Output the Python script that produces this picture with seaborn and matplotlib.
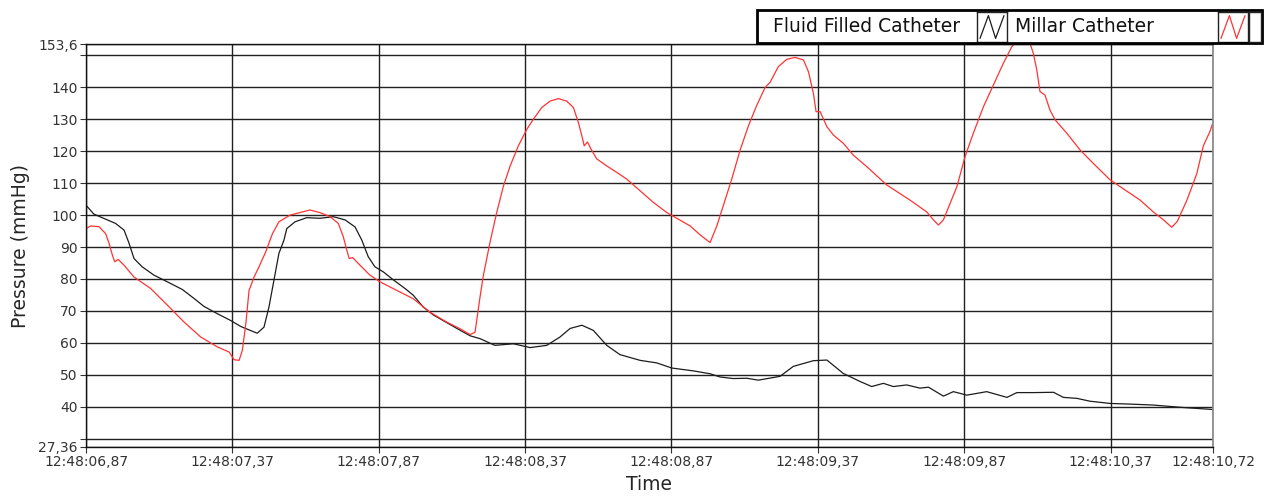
import numpy as np
import pandas as pd
import seaborn as sns
import matplotlib.pyplot as plt
from matplotlib.patches import Rectangle
from matplotlib.ticker import FixedLocator

# seconds within 12:48
fluid_t = [6.870, 6.897, 6.971, 7.000, 7.017, 7.034, 7.062, 7.102, 7.148, 7.199,
           7.239, 7.273, 7.319, 7.364, 7.399, 7.455, 7.478, 7.495, 7.512, 7.529,
           7.546, 7.556, 7.584, 7.624, 7.669, 7.715, 7.755, 7.789, 7.812, 7.834,
           7.857, 7.886, 7.920, 7.960, 7.988, 8.022, 8.057, 8.097, 8.137, 8.182,
           8.216, 8.267, 8.330, 8.387, 8.444, 8.489, 8.524, 8.564, 8.603, 8.649,
           8.694, 8.763, 8.820, 8.871, 8.945, 9.002, 9.036, 9.081, 9.127, 9.167,
           9.241, 9.286, 9.355, 9.401, 9.457, 9.514, 9.554, 9.594, 9.628, 9.674,
           9.719, 9.748, 9.799, 9.833, 9.879, 9.947, 10.016, 10.050, 10.106, 10.175,
           10.209, 10.255, 10.300, 10.369, 10.437, 10.516, 10.608, 10.720]
fluid_p = [103.1, 100.3, 97.4, 95.3, 91.2, 86.4, 83.8, 81.2, 79.1, 76.7,
           73.9, 71.4, 69.1, 67.0, 65.1, 63.0, 64.9, 71.2, 79.6, 88.0,
           92.1, 95.8, 97.9, 99.2, 99.0, 99.5, 98.5, 96.3, 92.2, 87.0,
           83.8, 82.2, 79.7, 77.0, 74.9, 71.2, 68.7, 66.6, 64.5, 62.2,
           61.3, 59.2, 59.7, 58.5, 59.2, 61.8, 64.5, 65.5, 63.9, 59.2,
           56.3, 54.5, 53.7, 52.1, 51.2, 50.3, 49.3, 48.8, 48.9, 48.3,
           49.5, 52.6, 54.4, 54.6, 50.4, 47.9, 46.3, 47.3, 46.3, 46.8,
           45.8, 46.1, 43.3, 44.7, 43.6, 44.7, 42.9, 44.4, 44.4, 44.5,
           42.9, 42.6, 41.7, 41.0, 40.8, 40.5, 39.8, 39.1]

millar_t = [6.870, 6.886, 6.914, 6.937, 6.949, 6.960, 6.968, 6.980, 7.000, 7.034,
            7.091, 7.148, 7.205, 7.262, 7.319, 7.359, 7.376, 7.393, 7.404, 7.416,
            7.427, 7.444, 7.461, 7.484, 7.507, 7.529, 7.567, 7.601, 7.635, 7.669,
            7.704, 7.732, 7.749, 7.761, 7.769, 7.781, 7.806, 7.840, 7.874, 7.932,
            7.988, 8.045, 8.102, 8.148, 8.182, 8.199, 8.210, 8.216, 8.227, 8.250,
            8.273, 8.296, 8.319, 8.347, 8.376, 8.398, 8.427, 8.455, 8.484, 8.512,
            8.535, 8.552, 8.564, 8.572, 8.583, 8.598, 8.615, 8.649, 8.683, 8.717,
            8.763, 8.808, 8.854, 8.888, 8.934, 8.968, 9.002, 9.025, 9.047, 9.076,
            9.104, 9.133, 9.161, 9.190, 9.207, 9.235, 9.264, 9.292, 9.321, 9.338,
            9.355, 9.364, 9.378, 9.401, 9.423, 9.457, 9.491, 9.537, 9.606, 9.685,
            9.742, 9.765, 9.782, 9.799, 9.822, 9.845, 9.873, 9.901, 9.936, 9.970,
            10.004, 10.033, 10.061, 10.095, 10.106, 10.118, 10.129, 10.146, 10.163, 10.181,
            10.221, 10.266, 10.311, 10.369, 10.403, 10.471, 10.516, 10.551, 10.579, 10.598,
            10.631, 10.665, 10.687, 10.710, 10.720]
millar_p = [95.8, 96.6, 96.4, 94.2, 91.1, 87.5, 85.4, 86.1, 84.3, 80.6,
            77.0, 71.8, 66.5, 61.8, 58.7, 57.1, 54.7, 54.5, 57.6, 66.0,
            76.4, 80.6, 83.8, 88.5, 94.2, 97.9, 100.0, 100.8, 101.6, 100.8,
            99.5, 97.4, 93.2, 89.0, 86.4, 86.7, 84.3, 81.2, 79.1, 76.4,
            73.8, 69.6, 66.5, 64.4, 62.6, 63.3, 70.5, 74.3, 80.9, 91.4,
            100.8, 109.1, 115.4, 121.7, 126.9, 130.0, 133.7, 135.7, 136.5, 135.7,
            133.7, 129.0, 124.8, 121.7, 122.9, 120.2, 117.6, 115.4, 113.4, 111.3,
            107.6, 104.0, 100.8, 99.0, 96.6, 93.8, 91.4, 96.6, 102.9, 111.3,
            120.2, 128.0, 134.3, 140.0, 141.6, 146.5, 148.8, 149.4, 148.6, 144.9,
            138.1, 132.4, 132.4, 127.7, 125.1, 122.5, 118.8, 115.2, 109.4, 104.7,
            101.0, 98.5, 96.9, 98.5, 103.7, 108.9, 118.3, 125.6, 134.0, 140.8,
            147.6, 152.8, 155.5, 153.8, 150.7, 145.5, 138.7, 137.6, 132.9, 129.8,
            125.6, 120.4, 116.2, 111.0, 108.9, 104.7, 101.0, 98.5, 96.2, 98.0,
            104.7, 113.1, 121.7, 126.3, 129.0]

x_ticks = [6.87, 7.37, 7.87, 8.37, 8.87, 9.37, 9.87, 10.37, 10.72]
y_ticks = [27.36, 30, 40, 50, 60, 70, 80, 90, 100, 110, 120, 130, 140, 150, 153.6]
y_labels = ["27,36", "", "40", "50", "60", "70", "80", "90", "100", "110",
            "120", "130", "140", "", "153,6"]

df = pd.concat([
    pd.DataFrame({"t": fluid_t, "p": fluid_p, "series": "Fluid Filled Catheter"}),
    pd.DataFrame({"t": millar_t, "p": millar_p, "series": "Millar Catheter"}),
])

sns.set_theme(style="white")
plt.rcParams["font.family"] = ["DejaVu Sans"]

fig = plt.figure(figsize=(12.69, 5.03), dpi=100)
ax = fig.add_axes([86/1269, 1 - 447/503, (1213-86)/1269, (447-44)/503])

sns.lineplot(data=df, x="t", y="p", hue="series", estimator=None, sort=False,
             palette={"Fluid Filled Catheter": "#1c1c1c", "Millar Catheter": "#ff3333"},
             linewidth=0.9, legend=False, ax=ax)

ax.set_xlim(6.87, 10.72)
ax.set_ylim(27.36, 153.6)
ax.xaxis.set_major_locator(FixedLocator(x_ticks))
ax.set_xticklabels(["12:48:%s" % ("%05.2f" % v).replace(".", ",") for v in x_ticks])
ax.yaxis.set_major_locator(FixedLocator(y_ticks))
ax.set_yticklabels(y_labels)
ax.grid(True, color="#202020", linewidth=1.0)
ax.tick_params(axis="both", direction="out", length=4, width=0.8, color="#333333",
               labelsize=10, labelcolor="#333333", pad=2, left=True, bottom=True)
for side in ["left", "bottom", "top"]:
    ax.spines[side].set_color("#111111")
    ax.spines[side].set_linewidth(1.0)
ax.spines["right"].set_color("#8a8a8a")
ax.set_xlabel("Time", fontsize=13.5, labelpad=4)
ax.set_ylabel("Pressure (mmHg)", fontsize=13.5, labelpad=6)

# legend block in the LabVIEW style
fig.patches.append(Rectangle((757/1269, 1 - 43/503), 505/1269, 33/503,
                             transform=fig.transFigure, fill=False,
                             edgecolor="black", linewidth=2))
fig.patches.append(Rectangle((1249/1269, 1 - 42/503), 12/1269, 30/503,
                             transform=fig.transFigure, fill=False,
                             edgecolor="#222222", linewidth=1))
fig.text(773/1269, 1 - 27/503, "Fluid Filled Catheter", fontsize=13.5,
         va="center", ha="left", color="#111111")
fig.text(1015/1269, 1 - 27/503, "Millar Catheter", fontsize=13.5,
         va="center", ha="left", color="#111111")
for left, col in [(977, "#1c1c1c"), (1218, "#ff3333")]:
    ic = fig.add_axes([left/1269, 1 - 42/503, 30/1269, 30/503])
    ic.plot([0.1, 0.38, 0.62, 0.9], [0.12, 0.88, 0.12, 0.88], color=col, linewidth=0.9)
    ic.set_xlim(0, 1)
    ic.set_ylim(0, 1)
    ic.set_xticks([])
    ic.set_yticks([])
    for s in ic.spines.values():
        s.set_color("#222222")
        s.set_linewidth(1.0)

fig.savefig("out.png", dpi=100)
